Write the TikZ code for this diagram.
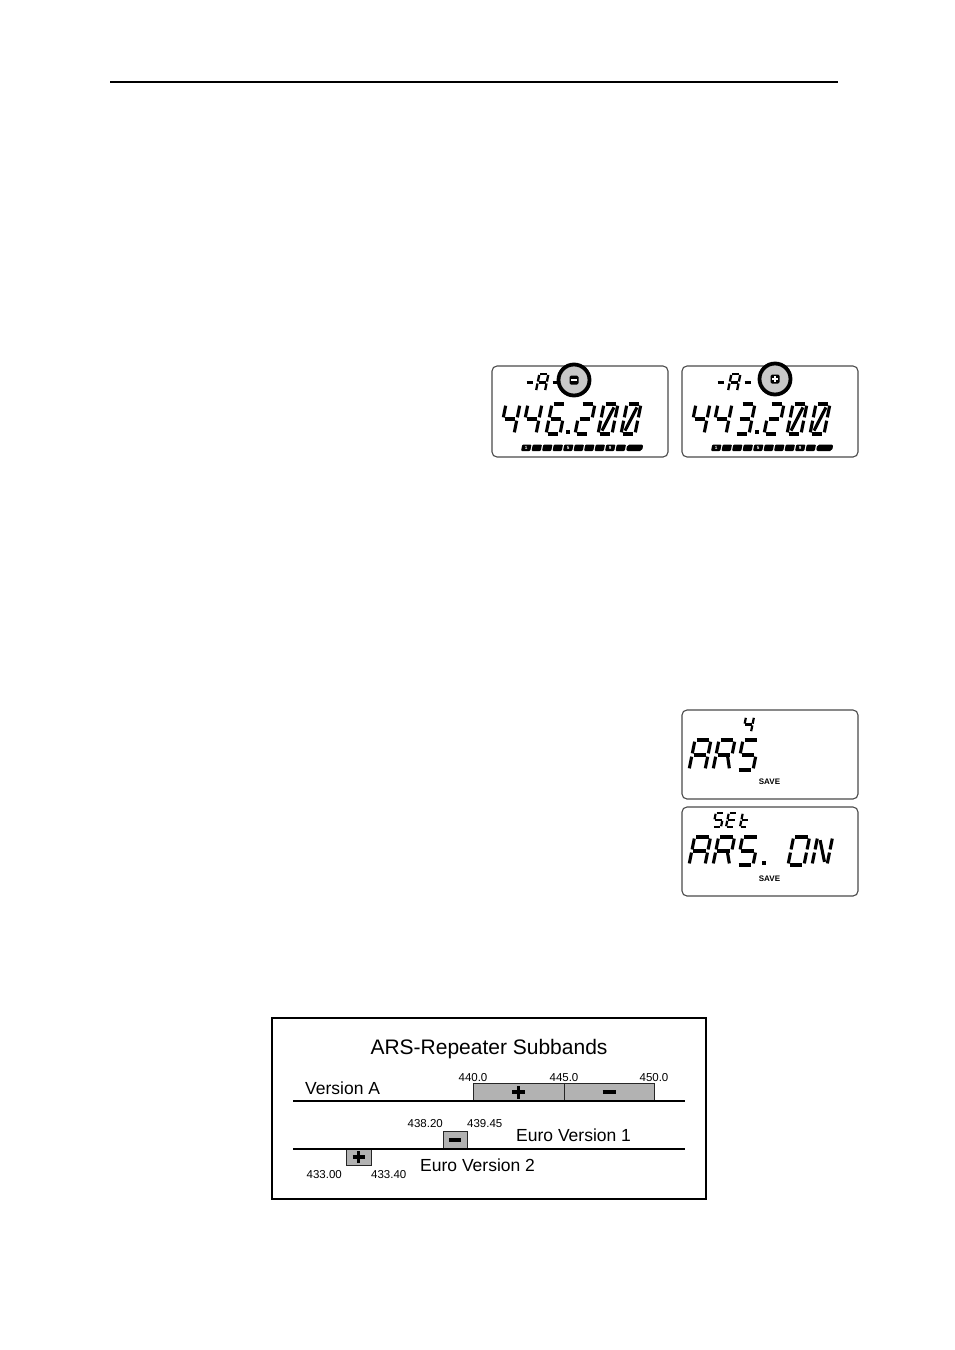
\documentclass[tikz,border=0pt]{standalone}
\usepackage{fontspec}
\setmainfont{Liberation Sans}
\usepackage{xcolor}
\definecolor{lcdedge}{HTML}{4A4A4A}
\definecolor{bandfill}{HTML}{B2B2B2}
\definecolor{markfill}{HTML}{C8C8C8}
\usetikzlibrary{positioning}
\tikzset{
  arslcd/.style={draw=lcdedge,line width=1.1pt,rounded corners=5pt,minimum width=176pt,inner sep=0pt,outer sep=0pt},
  arsseg/.style={line width=\segl pt},
  arsmark/.style={circle,draw=black,line width=3.8pt,fill=markfill,minimum size=31pt,inner sep=0pt},
  arsnum/.style={text=white,inner sep=0pt,font=\bfseries\fontsize{4.5}{5}\selectfont},
  arssave/.style={inner sep=0pt,font=\bfseries\fontsize{8}{9}\selectfont},
  arsband/.style={draw=black!85,fill=bandfill,line width=0.8pt,inner sep=0pt,outer sep=0pt,minimum height=18pt},
  arsaxis/.style={line width=2pt},
  arssign/.style={line width=3.6pt},
  arsfreq/.style={inner sep=0pt,font=\fontsize{11.5}{12}\selectfont},
  arslabel/.style={inner sep=0pt,font=\fontsize{17.5}{20}\selectfont},
}
% 1 top, 2 upper right, 3 lower right, 4 bottom, 5 lower left, 6 upper left,
% 7 middle, 8 slash of the zero, 9 diagonal of the N, 10 leg of the R
\newcommand{\lcdseg}[1]{%
  \ifcase#1\or
    \draw[arsseg] (\segg,-\segh) -- (\segw-\segg,-\segh);\or
    \draw[arsseg] (\segw,-\segh+\segg) -- (\segw,-\segh/2-\segg);\or
    \draw[arsseg] (\segw,-\segh/2+\segg) -- (\segw,-\segg);\or
    \draw[arsseg] (\segg,0) -- (\segw-\segg,0);\or
    \draw[arsseg] (0,-\segg) -- (0,-\segh/2+\segg);\or
    \draw[arsseg] (0,-\segh/2-\segg) -- (0,-\segh+\segg);\or
    \draw[arsseg] (\segg,-\segh/2) -- (\segw-\segg,-\segh/2);\or
    \draw[arsseg] (\segw-2*\segg,-\segh+2*\segg) -- (2*\segg,-2*\segg);\or
    \draw[arsseg] (2*\segg,-\segh+2*\segg) -- (\segw-2*\segg,-2*\segg);\or
    \draw[arsseg] (\segw-4,-\segh/2+\segg) -- (\segw,-\segg);\fi}
% [line width]{x}{baseline}{width}{height}{segments}
\newcommand{\lcdchar}[6][3.1]{%
  \begin{scope}[shift={(#2,#3)},xslant=0.2]
    \def\segl{#1}\def\segw{#4}\def\segh{#5}
    \pgfmathsetmacro\segg{0.056*#5}
    \foreach \s in {#6}{\lcdseg{\s}}
  \end{scope}}
\newcommand{\lcddot}[2]{\fill (#1,#2) rectangle ++(3.6,-3.6);}
\newcommand{\lcdbar}[1]{%
  \begin{scope}[shift={(29,85)},xslant=0.2]
    \foreach \i in {0,...,9}{\fill[rounded corners=1pt] (10.5*\i,0) rectangle ++(9.2,-6.5);}
    \fill[rounded corners=2pt] (105,0) rectangle (121,-6.5);
    \foreach \i/\n in {0/1,4/5,8/9}{\node[arsnum] (#1\n) at (10.5*\i+4.6,-3.2) {\n};}
  \end{scope}}

\begin{document}
\begin{tikzpicture}[x=1pt,y=-1pt]
\useasboundingbox (0,0) rectangle (954,1350);
\draw[line width=1.5pt] (110,82) -- (838,82);

% repeater shift displays
\node[arslcd,minimum height=91pt,anchor=north west] (lcdneg) at (492,366) {};
\node[arslcd,minimum height=91pt,right=14pt of lcdneg] (lcdpos) {};
\begin{scope}[shift={(lcdneg.north west)}]
  \lcdchar[2.3]{32}{25}{8}{17}{7}
  \lcdchar[2.3]{44}{25}{9}{17}{1,2,3,5,6,7}
  \lcdchar[2.3]{58}{25}{8}{17}{7}
  \lcdchar{8}{68}{14}{30}{6,7,2,3}
  \lcdchar{30}{68}{14}{30}{6,7,2,3}
  \lcdchar{54}{68}{14}{30}{1,6,7,5,4,3}
  \lcddot{74}{68}
  \lcdchar{83}{68}{14}{30}{1,2,7,5,4}
  \lcdchar{106}{68}{14}{30}{1,2,3,4,5,6,8}
  \lcdchar{129}{68}{14}{30}{1,2,3,4,5,6,8}
  \lcdbar{neg}
  \node[arsmark] (markneg) at (82,14) {};
  \fill[rounded corners=1.5pt] ([shift={(-4.5,-4.5)}]markneg.center) rectangle ([shift={(4.5,4.5)}]markneg.center);
  \draw[white,line width=1.5pt] ([xshift=-2.6pt]markneg.center) -- ([xshift=2.6pt]markneg.center);
\end{scope}
\begin{scope}[shift={(lcdpos.north west)}]
  \lcdchar[2.3]{33}{25}{8}{17}{7}
  \lcdchar[2.3]{46}{25}{9}{17}{1,2,3,5,6,7}
  \lcdchar[2.3]{60}{25}{8}{17}{7}
  \lcdchar{8}{68}{14}{30}{6,7,2,3}
  \lcdchar{30}{68}{14}{30}{6,7,2,3}
  \lcdchar{53}{68}{14}{30}{1,2,7,3,4}
  \lcddot{73}{68}
  \lcdchar{82}{68}{14}{30}{1,2,7,5,4}
  \lcdchar{105}{68}{14}{30}{1,2,3,4,5,6,8}
  \lcdchar{128}{68}{14}{30}{1,2,3,4,5,6,8}
  \lcdbar{pos}
  \node[arsmark] (markpos) at (93,13) {};
  \fill[rounded corners=1.5pt] ([shift={(-4.5,-4.5)}]markpos.center) rectangle ([shift={(4.5,4.5)}]markpos.center);
  \draw[white,line width=1.5pt] ([xshift=-2.6pt]markpos.center) -- ([xshift=2.6pt]markpos.center);
  \draw[white,line width=1.5pt] ([yshift=-2.6pt]markpos.center) -- ([yshift=2.6pt]markpos.center);
\end{scope}

% ARS menu displays
\node[arslcd,minimum height=89pt,anchor=north west] (lcdars) at (682,710) {};
\node[arslcd,minimum height=89pt,below=8pt of lcdars] (lcdset) {};
\begin{scope}[shift={(lcdars.north west)}]
  \lcdchar[2.2]{61}{22}{8}{15}{6,7,2,3}
  \lcdchar{7}{60}{16}{30}{1,2,3,5,6,7}
  \lcdchar{31}{60}{16}{30}{1,2,6,7,5,10}
  \lcdchar{55}{60}{16}{30}{1,6,7,3,4}
  \node[arssave] (savears) at (87.5,71.5) {SAVE};
\end{scope}
\begin{scope}[shift={(lcdset.north west)}]
  \lcdchar[2.2]{31}{20}{8}{14}{1,6,7,3,4}
  \lcdchar[2.2]{44}{20}{8}{14}{1,6,7,5,4}
  \lcdchar[2.2]{58}{20}{7}{14}{6,5,7,4}
  \lcdchar{7}{58}{16}{28}{1,2,3,5,6,7}
  \lcdchar{31}{58}{16}{28}{1,2,6,7,5,10}
  \lcdchar{55}{58}{16}{28}{1,6,7,3,4}
  \lcddot{80}{58}
  \lcdchar{106}{58}{16}{28}{1,2,3,4,5,6}
  \lcdchar{130}{58}{15}{28}{6,5,2,3,9}
  \node[arssave] (saveset) at (87.5,71.5) {SAVE};
\end{scope}

% subband chart
\node[draw,line width=2pt,minimum width=434pt,minimum height=181pt,inner sep=0pt] (chart) at (489,1108.5) {};
\node[inner sep=0pt,font=\fontsize{21}{24}\selectfont,anchor=base] (title) at (489,1054) {ARS-Repeater Subbands};
\node[arsband,minimum width=91pt,anchor=south west] (vAplus) at (473,1101) {};
\node[arsband,minimum width=90pt,right=0pt of vAplus] (vAminus) {};
\node[arsband,minimum width=24pt,anchor=south west] (eAminus) at (443,1149) {};
\node[arsband,minimum width=25pt,minimum height=16pt,anchor=north west] (eBplus) at (346,1149) {};
\draw[arsaxis] (293,1101) -- (685,1101);
\draw[arsaxis] (293,1149) -- (685,1149);
\draw[arssign] ([xshift=-6.5pt]vAplus.center) -- ([xshift=6.5pt]vAplus.center);
\draw[arssign] ([yshift=-6.5pt]vAplus.center) -- ([yshift=6.5pt]vAplus.center);
\draw[arssign] ([xshift=-6.5pt]vAminus.center) -- ([xshift=6.5pt]vAminus.center);
\draw[arssign] ([xshift=-6pt]eAminus.center) -- ([xshift=6pt]eAminus.center);
\draw[arssign] ([xshift=-6pt]eBplus.center) -- ([xshift=6pt]eBplus.center);
\draw[arssign] ([yshift=-6pt]eBplus.center) -- ([yshift=6pt]eBplus.center);
\node[arsfreq,above=1.5pt of vAplus.north west] (f440) {440.0};
\node[arsfreq,above=1.5pt of vAplus.north east] (f445) {445.0};
\node[arsfreq,above=1.5pt of vAminus.north east] (f450) {450.0};
\node[arsfreq,above left=3pt and 0pt of eAminus.north west] (f438) {438.20};
\node[arsfreq,above right=3pt and 0pt of eAminus.north east] (f439) {439.45};
\node[arsfreq,below left=5pt and 4pt of eBplus.south west] (f433) {433.00};
\node[arsfreq,below right=5pt and 0pt of eBplus.south east] (f434) {433.40};
\node[arslabel,anchor=base west] (verA) at (305,1094) {Version A};
\node[arslabel,anchor=base west] (euro1) at (516,1141) {Euro Version 1};
\node[arslabel,anchor=base west] (euro2) at (420,1171) {Euro Version 2};
\end{tikzpicture}
\end{document}
